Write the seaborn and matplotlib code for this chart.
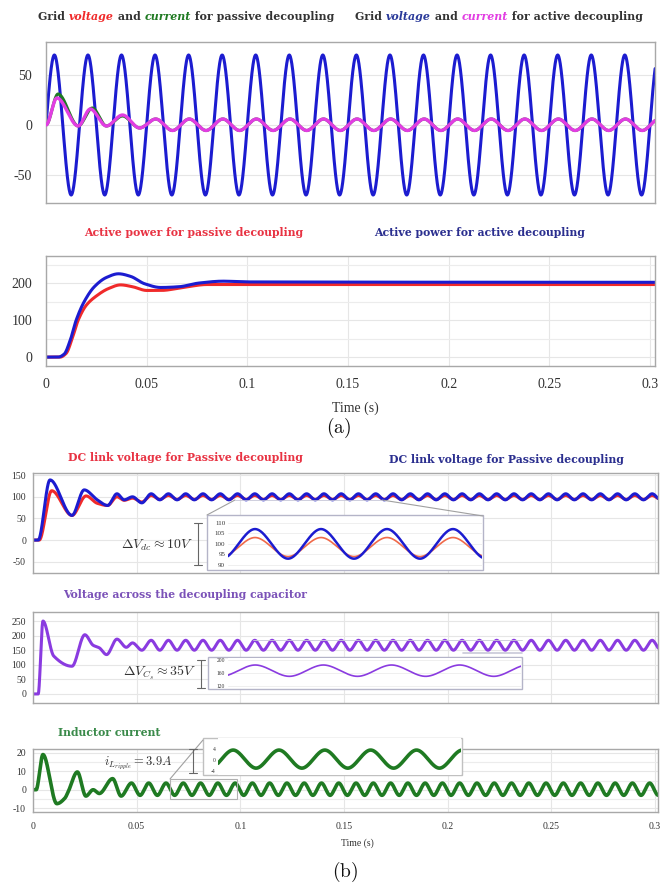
import numpy as np
import matplotlib
matplotlib.use('Agg')
from matplotlib import pyplot as plt
from matplotlib.patches import Rectangle
from matplotlib.lines import Line2D
import seaborn as sns

# ---- values ----
GRID_FREQ = 60       # Hz, grid waveforms
RIPPLE_FREQ = 120    # Hz, dc-side ripple
T_END = 0.31

grid_v_amp = 70

# grid current, active decoupling (transient extrema, then steady peak/trough)
ia_t = [0.0, 0.0054, 0.016, 0.022, 0.030, 0.038, 0.0465]
ia_v = [0.0, 27, -1, 16, -1, 10, -3]
ia_hi, ia_lo, ia_start = 6.0, -5.5, 0.0545
# grid current, passive decoupling
ip_t = [0.0, 0.006, 0.016, 0.023, 0.030, 0.038, 0.0465]
ip_v = [0.0, 31, -1, 17, -1, 9, -3]

# active power
p_act_t = [0, 0.006, 0.009, 0.012, 0.015, 0.019, 0.024, 0.030, 0.036, 0.042, 0.049, 0.057, 0.066, 0.076, 0.088, 0.10, 0.31]
p_act_v = [0, 0, 8, 45, 100, 150, 190, 215, 225, 218, 198, 188, 190, 200, 205, 203, 202]
p_pas_t = [0, 0.007, 0.010, 0.013, 0.016, 0.020, 0.025, 0.031, 0.037, 0.043, 0.050, 0.057, 0.068, 0.080, 0.10, 0.31]
p_pas_v = [0, 0, 10, 50, 100, 140, 165, 185, 195, 190, 180, 180, 188, 196, 196, 196]

# dc link voltage
dc_act_t = [0, 0.0025, 0.0082, 0.0188, 0.0247, 0.031, 0.036, 0.0405, 0.044, 0.048, 0.0525]
dc_act_v = [0, 0, 139, 57, 116, 93, 80, 107, 93, 100, 86]
dc_act_hi, dc_act_lo = 107, 93
dc_pas_t = [0, 0.003, 0.009, 0.0188, 0.0256, 0.031, 0.036, 0.0405, 0.044, 0.048, 0.0525]
dc_pas_v = [0, 0, 114, 57, 102, 85, 80, 100, 92, 97, 88]
dc_pas_hi, dc_pas_lo = 103, 94
dc_start = 0.057

# decoupling capacitor voltage
cs_t = [0, 0.0025, 0.0048, 0.0100, 0.0188, 0.025, 0.029, 0.032, 0.0355, 0.0405, 0.045, 0.048, 0.0525]
cs_v = [0, 0, 250, 130, 95, 203, 167, 158, 135, 188, 160, 175, 150]
cs_hi, cs_lo, cs_start = 184, 150, 0.057

# inductor current
il_t = [0, 0.0015, 0.0048, 0.0115, 0.0154, 0.017, 0.0214, 0.0255, 0.029, 0.032, 0.0384, 0.0425]
il_v = [0, 0, 19, -7.5, -4.5, -1, 9.6, -3.4, 0, -2, 6, -3.4]
il_hi, il_lo, il_start = 3.6, -3.0, 0.0475

time_ticks = [0, 0.05, 0.1, 0.15, 0.2, 0.25, 0.3]
time_labels = ['0', '0.05', '0.1', '0.15', '0.2', '0.25', '0.3']


def pchip(xk, yk, x):
    xk = np.asarray(xk, float)
    yk = np.asarray(yk, float)
    h = np.diff(xk)
    m = np.diff(yk) / h
    d = np.zeros_like(yk)
    for k in range(1, len(xk) - 1):
        if m[k - 1] * m[k] > 0:
            w1 = 2 * h[k] + h[k - 1]
            w2 = h[k] + 2 * h[k - 1]
            d[k] = (w1 + w2) / (w1 / m[k - 1] + w2 / m[k])
    i = np.clip(np.searchsorted(xk, x, side='right') - 1, 0, len(xk) - 2)
    s = (x - xk[i]) / h[i]
    return ((2 * s**3 - 3 * s**2 + 1) * yk[i] + (s**3 - 2 * s**2 + s) * h[i] * d[i]
            + (-2 * s**3 + 3 * s**2) * yk[i + 1] + (s**3 - s**2) * h[i] * d[i + 1])


def with_ripple(tk, vk, t_first, freq, first, second):
    n = int((T_END - t_first) * 2 * freq) + 2
    tt = t_first + np.arange(n) / (2 * freq)
    vv = np.where(np.arange(n) % 2 == 0, first, second)
    return np.r_[tk, tt], np.r_[vk, vv]


t = np.linspace(0, 0.305, 4000)

gv = pchip(*with_ripple([], [], -1 / (4 * GRID_FREQ), GRID_FREQ, -grid_v_amp, grid_v_amp), t)
ia = pchip(*with_ripple(ia_t, ia_v, ia_start, GRID_FREQ, ia_hi, ia_lo), t)
ip = pchip(*with_ripple(ip_t, ip_v, ia_start, GRID_FREQ, ia_hi, ia_lo), t)
pa = pchip(p_act_t, p_act_v, t)
pp = pchip(p_pas_t, p_pas_v, t)
dca_k = with_ripple(dc_act_t, dc_act_v, dc_start, RIPPLE_FREQ, dc_act_hi, dc_act_lo)
dcp_k = with_ripple(dc_pas_t, dc_pas_v, dc_start, RIPPLE_FREQ, dc_pas_hi, dc_pas_lo)
cs_k = with_ripple(cs_t, cs_v, cs_start, RIPPLE_FREQ, cs_hi, cs_lo)
il_k = with_ripple(il_t, il_v, il_start, RIPPLE_FREQ, il_hi, il_lo)
dca, dcp, cs, il = (pchip(*k, t) for k in (dca_k, dcp_k, cs_k, il_k))

# ---- figure ----
W, H = 665, 884
sns.set_style('whitegrid')
plt.rcParams['font.family'] = ['Liberation Serif', 'DejaVu Serif']
plt.rcParams['mathtext.fontset'] = 'cm'
plt.rcParams['axes.unicode_minus'] = False

BLUE = '#1c1cd0'
RED = '#f02a2a'
MAGENTA = '#e23de2'
GREEN = '#1f7a22'
PURPLE = '#8a3be0'
TXT = '#333333'
TITLE_FONT = 'DejaVu Serif'

fig = plt.figure(figsize=(W / 100, H / 100), dpi=100)


def px_box(l, t_, r, b):
    return [l / W, 1 - b / H, (r - l) / W, (b - t_) / H]


def line(ax, x, y, color, lw, z=2):
    sns.lineplot(x=x, y=y, ax=ax, color=color, linewidth=lw, estimator=None, sort=False, zorder=z)


def style(ax, xlim, ylim, yticks, fs, ypad, xpad, xlabels=True, minor=None):
    ax.set_xlim(*xlim)
    ax.set_ylim(*ylim)
    ax.set_yticks(yticks)
    ax.set_yticklabels([str(v) for v in yticks])
    ax.set_xticks(time_ticks)
    ax.set_xticklabels(time_labels if xlabels else [])
    if minor is not None:
        ax.set_yticks(minor, minor=True)
        ax.grid(True, which='minor', axis='y', color='#ececec', lw=0.8)
    ax.grid(True, color='#e6e6e6', lw=0.8)
    ax.set_axisbelow(True)
    for sp in ax.spines.values():
        sp.set_color('#a8a8a8')
        sp.set_linewidth(1.0)
    ax.tick_params(length=0, labelsize=fs, labelcolor=TXT, which='both')
    ax.tick_params(axis='y', pad=ypad)
    ax.tick_params(axis='x', pad=xpad)
    ax.set_xlabel('')
    ax.set_ylabel('')


def fig_line(xs, ys, color='#a0a0a0', lw=0.8, z=4):
    fig.add_artist(Line2D([x / W for x in xs], [1 - y / H for y in ys], color=color, lw=lw, zorder=z))


def bracket(x, y0, y1, cap=4):
    fig_line([x, x], [y0, y1], color='#666666', lw=0.8)
    fig_line([x - cap, x + cap], [y0, y0], color='#666666', lw=0.8)
    fig_line([x - cap, x + cap], [y1, y1], color='#666666', lw=0.8)


def multi_title(ax, x, y, parts, size):
    s, c, st = parts[0]
    prev = fig.text(x / W, 1 - y / H, s, color=c, style=st, fontsize=size, fontweight='bold',
                    family=TITLE_FONT, va='center', ha='left')
    for s, c, st in parts[1:]:
        prev = ax.annotate(s, xy=(1, 0), xycoords=prev, va='bottom', ha='left', color=c, style=st,
                           fontsize=size, fontweight='bold', family=TITLE_FONT, annotation_clip=False)


def title(x, y, s, color, size=7.8):
    fig.text(x / W, 1 - y / H, s, color=color, fontsize=size, fontweight='bold',
             family=TITLE_FONT, ha='center', va='center')


# (a) grid voltage and current
ax1 = fig.add_axes(px_box(46, 42, 655, 203))
line(ax1, t, gv, BLUE, 2.2)
line(ax1, t, ip, GREEN, 2.2)
line(ax1, t, ia, MAGENTA, 2.4, z=3)
style(ax1, (0, 0.3025), (-78, 83), [-50, 0, 50], 10, 10, 6, xlabels=False)
ax1.grid(False, axis='x')
multi_title(ax1, 38, 16, [('Grid ', TXT, 'normal'), ('voltage', RED, 'italic'), (' and ', TXT, 'normal'),
                          ('current', GREEN, 'italic'), (' for passive decoupling', TXT, 'normal')], 7.9)
multi_title(ax1, 355, 16, [('Grid ', TXT, 'normal'), ('voltage', '#2a3a9a', 'italic'), (' and ', TXT, 'normal'),
                           ('current', MAGENTA, 'italic'), (' for active decoupling', TXT, 'normal')], 7.9)

# (a) active power
ax2 = fig.add_axes(px_box(46, 256, 655, 366))
line(ax2, t, pp, RED, 2.2)
line(ax2, t, pa, BLUE, 2.2)
style(ax2, (0, 0.3025), (-24, 273), [0, 100, 200], 10, 10, 9, minor=[50, 150, 250])
title(194, 232, 'Active power for passive decoupling', '#e83343')
title(480, 232, 'Active power for active decoupling', '#2b2f8f')
fig.text(355 / W, 1 - 408 / H, 'Time (s)', fontsize=10, color=TXT, ha='center', va='center')
fig.text(339 / W, 1 - 428 / H, r'$\mathrm{(a)}$', fontsize=14, color='#111111', ha='center', va='center')

# (b) dc link voltage
ax3 = fig.add_axes(px_box(33, 473, 658, 573))
line(ax3, t, dcp, RED, 2.2)
line(ax3, t, dca, BLUE, 2.2)
style(ax3, (0, 0.3015), (-76, 155), [-50, 0, 50, 100, 150], 7, 5, 6, xlabels=False)
title(185, 457, 'DC link voltage for Passive decoupling', '#e83343')
title(506, 459, 'DC link voltage for Passive decoupling', '#2b2f8f')

fig.add_artist(Rectangle((207 / W, 1 - 570 / H), 276 / W, 55 / H, transform=fig.transFigure,
                         facecolor='white', edgecolor='#b4b4c8', lw=1.0, zorder=2))
fig_line([235, 207], [500, 515])
fig_line([382, 483], [500, 516])
fig_line([235, 382], [500, 500], color='#c8c8d8', lw=0.6)
ins1 = fig.add_axes(px_box(228, 517, 482, 568))
ins1.set_zorder(3)
w0 = dc_start + 1 / (2 * RIPPLE_FREQ) + 5 / RIPPLE_FREQ + 0.09 / RIPPLE_FREQ
tw = np.linspace(w0, w0 + 3.85 / RIPPLE_FREQ, 600)
line(ins1, tw, pchip(*dcp_k, tw), '#f06a4a', 1.2)
line(ins1, tw, pchip(*dca_k, tw), BLUE, 1.8)
ins1.set_xlim(tw[0], tw[-1])
ins1.set_ylim(88.6, 112.7)
ins1.set_yticks([90, 95, 100, 105, 110])
ins1.set_xticks([])
ins1.grid(True, color='#ececec', lw=0.6)
ins1.tick_params(length=0, labelsize=5, labelcolor=TXT, pad=2)
for sp in ins1.spines.values():
    sp.set_visible(False)
bracket(198, 523, 565)
fig.text(193 / W, 1 - 545 / H, r'$\Delta V_{dc} \approx 10V$', fontsize=10, color='#333333', ha='right', va='center')

# (b) decoupling capacitor voltage
ax4 = fig.add_axes(px_box(33, 612, 658, 703))
line(ax4, t, cs, PURPLE, 2.2)
style(ax4, (0, 0.3015), (-31, 281), [0, 50, 100, 150, 200, 250], 7, 5, 6, xlabels=False)
title(185, 595, 'Voltage across the decoupling capacitor', '#7b52b8')

fig.add_artist(Rectangle((208 / W, 1 - 689 / H), 314 / W, 32 / H, transform=fig.transFigure,
                         facecolor='white', edgecolor='#b4b4c8', lw=1.0, zorder=2))
fig_line([253, 522], [640, 640], color='#c8c8d8', lw=0.6)
fig_line([463, 522], [653, 653], color='#c8c8d8', lw=1.2)
ins2 = fig.add_axes(px_box(228, 658, 521, 688))
ins2.set_zorder(3)
w1 = cs_start + 20 / RIPPLE_FREQ - 0.4 / RIPPLE_FREQ
tw = np.linspace(w1, w1 + 4.3 / RIPPLE_FREQ, 600)
line(ins2, tw, pchip(*cs_k, tw), PURPLE, 1.2)
ins2.set_xlim(tw[0], tw[-1])
ins2.set_ylim(115, 205)
ins2.set_yticks([120, 160, 200])
ins2.set_xticks([])
ins2.grid(True, color='#ececec', lw=0.6)
ins2.tick_params(length=0, labelsize=4, labelcolor=TXT, pad=2)
for sp in ins2.spines.values():
    sp.set_visible(False)
bracket(201, 660, 688)
fig.text(197 / W, 1 - 673 / H, r'$\Delta V_{C_s} \approx 35V$', fontsize=10, color='#333333', ha='right', va='center')

# (b) inductor current
ax5 = fig.add_axes(px_box(33, 749, 658, 812))
line(ax5, t, il, GREEN, 2.6)
style(ax5, (0, 0.3015), (-12, 22), [-10, 0, 10, 20], 7, 5, 7, minor=[-5, 5, 15])
title(109, 733, 'Inductor current', '#3a8a4a')
fig.text(357 / W, 1 - 843 / H, 'Time (s)', fontsize=7, color=TXT, ha='center', va='center')
fig.text(345 / W, 1 - 872 / H, r'$\mathrm{(b)}$', fontsize=14, color='#111111', ha='center', va='center')

fig.add_artist(Rectangle((170 / W, 1 - 799 / H), 67 / W, 20 / H, transform=fig.transFigure,
                         facecolor='none', edgecolor='#b0b0b0', lw=0.8, zorder=2))
fig_line([170, 203], [779, 740])
fig.add_artist(Rectangle((203 / W, 1 - 775 / H), 259 / W, 37 / H, transform=fig.transFigure,
                         facecolor='white', edgecolor='#c0c0c0', lw=1.0, zorder=2))
ins3 = fig.add_axes(px_box(218, 738, 461, 775))
ins3.set_zorder(3)
w2 = il_start + 8 / RIPPLE_FREQ - 0.33 / RIPPLE_FREQ
tw = np.linspace(w2, w2 + 5.3 / RIPPLE_FREQ, 600)
line(ins3, tw, pchip(*il_k, tw), GREEN, 2.6)
ins3.set_xlim(tw[0], tw[-1])
ins3.set_ylim(-5.5, 8)
ins3.set_yticks([-4, 0, 4])
ins3.set_xticks([])
ins3.grid(False)
ins3.tick_params(length=0, labelsize=4, labelcolor=TXT, pad=2)
for sp in ins3.spines.values():
    sp.set_visible(False)
bracket(193, 749, 773)
fig.text(172 / W, 1 - 763 / H, r'$i_{L_{ripple}} = 3.9A$', fontsize=9, color='#333333', ha='right', va='center')

fig.savefig('out.png', dpi=100)
